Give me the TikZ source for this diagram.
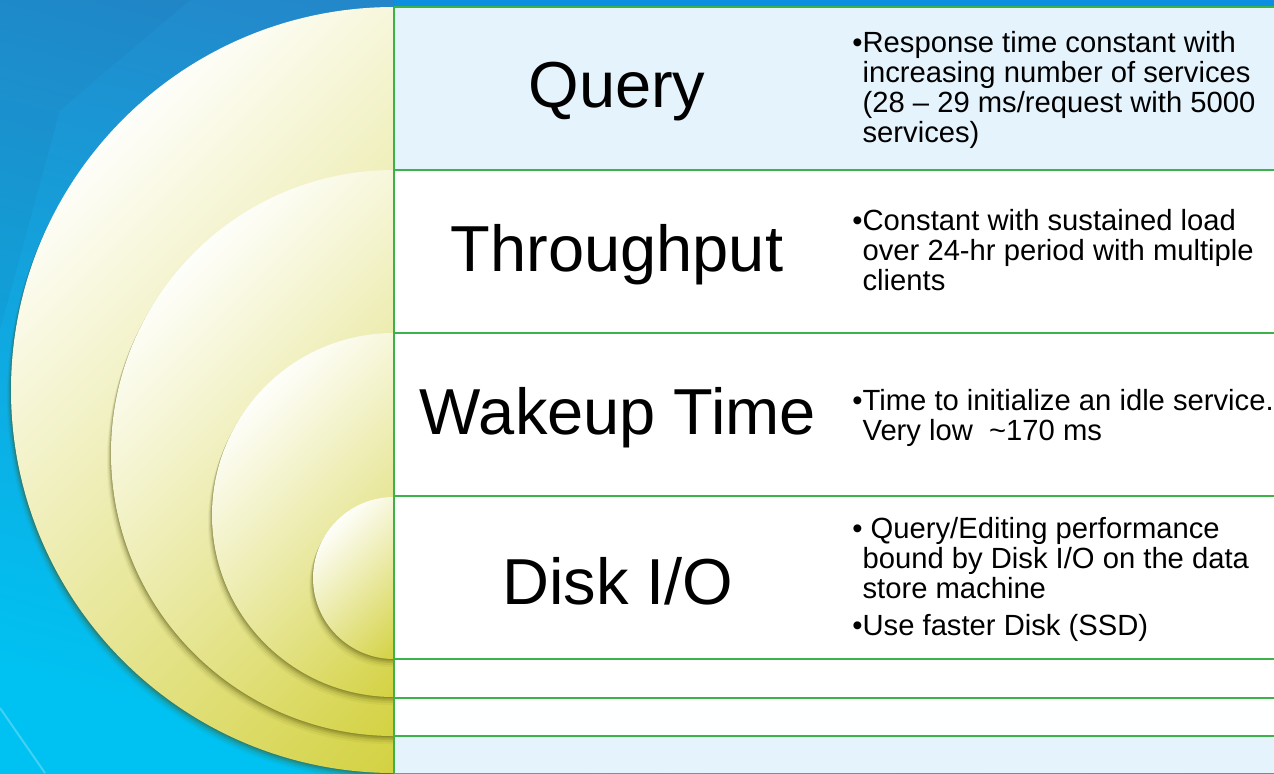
\documentclass[tikz,border=0pt]{standalone}
\usepackage{fontspec}
\setmainfont{Liberation Sans}
\definecolor{bgtop}{HTML}{2A7CC2}
\definecolor{bgmid}{HTML}{1A9CD4}
\definecolor{bgbot}{HTML}{00C2F2}
\definecolor{strip}{HTML}{0C8FE0}
\definecolor{rowblue}{HTML}{E4F3FC}
\definecolor{gline}{HTML}{3BB34A}
\definecolor{cwhite}{HTML}{FEFEFA}
\definecolor{cmid}{HTML}{EAE6C0}
\definecolor{cyel}{HTML}{CCCA22}
\definecolor{shad}{HTML}{4A4A08}
\tikzset{
  title/.style={font=\fontsize{32.5}{34}\selectfont, text=black, inner sep=0pt},
  desc/.style={font=\fontsize{14.6}{14.8}\selectfont, text=black, inner sep=0pt, anchor=west, align=left},
  gridline/.style={draw=gline, line width=1pt},
  disc/.style={top color=cwhite, middle color=cmid, bottom color=cyel, shading angle=45},
}
\newcommand{\ringshadow}[2]{%
  \foreach \d/\o in {1/0.22,2.5/0.17,4/0.13,6/0.09,8/0.05}{%
    \fill[shad, opacity=\o] (394-\d*0.5,#1+\d) circle[radius=#2*0.5pt];}%
}
\begin{document}
\begin{tikzpicture}[x=0.5pt,y=-0.5pt]
\useasboundingbox (0,0) rectangle (1274,773);
% background
\shade[top color=bgtop, middle color=bgmid, bottom color=bgbot, shading angle=-15] (0,0) rectangle (1274,773);
\fill[bgtop!70!black, opacity=0.08] (0,0) -- (190,0) -- (60,110) -- (0,330) -- cycle;
\draw[white, opacity=0.25, line width=1pt] (0,708) -- (45,773);
% circles with shadows
\begin{scope}
\clip (0,0) rectangle (394,773);
\ringshadow{390}{383}
\shade[disc] (394,390) circle[radius=191.5pt];
\ringshadow{453}{283}
\shade[disc] (394,453) circle[radius=141.5pt];
\ringshadow{515}{182}
\shade[disc] (394,515) circle[radius=91pt];
\ringshadow{578}{81}
\shade[disc] (394,578) circle[radius=40.5pt];
\end{scope}
% table
\fill[strip] (394,0) rectangle (1274,7);
\fill[rowblue] (394,7) rectangle (1274,170);
\fill[white] (394,170) rectangle (1274,698);
\fill[white!97!rowblue] (394,698) rectangle (1274,736);
\fill[rowblue] (394,736) rectangle (1274,773);
\foreach \y in {7,170,333,496,659,698,736}{\draw[gridline] (394,\y) -- (1274,\y);}
\draw[gridline] (394,6.5) -- (394,773);
% titles
\node[title] (tq) at (617,92) {Query};
\node[title] (tt) at (617,255) {Throughput};
\node[title] (tw) at (618,418) {Wakeup Time};
\node[title] (td) at (618,581) {Disk I/O};
% descriptions
\node[desc] (dq) at (852,91) {\begin{tabular}{@{}l@{}l@{}}
•&Response time constant with\\
&increasing number of services\\
&(28 – 29 ms/request with 5000\\
&services)\end{tabular}};
\node[desc] (dt) at (852,254) {\begin{tabular}{@{}l@{}l@{}}
•&Constant with sustained load\\
&over 24-hr period with multiple\\
&clients\end{tabular}};
\node[desc] (dw) at (852,419) {\begin{tabular}{@{}l@{}l@{}}
•&Time to initialize an idle service.\\
&Very low \ \textasciitilde170 ms\end{tabular}};
\node[desc] (dd) at (852,581) {\begin{tabular}{@{}l@{}l@{}}
•&\ Query/Editing performance\\
&bound by Disk I/O on the data\\
&store machine\\[3.5pt]
•&Use faster Disk (SSD)\end{tabular}};
\end{tikzpicture}
\end{document}
